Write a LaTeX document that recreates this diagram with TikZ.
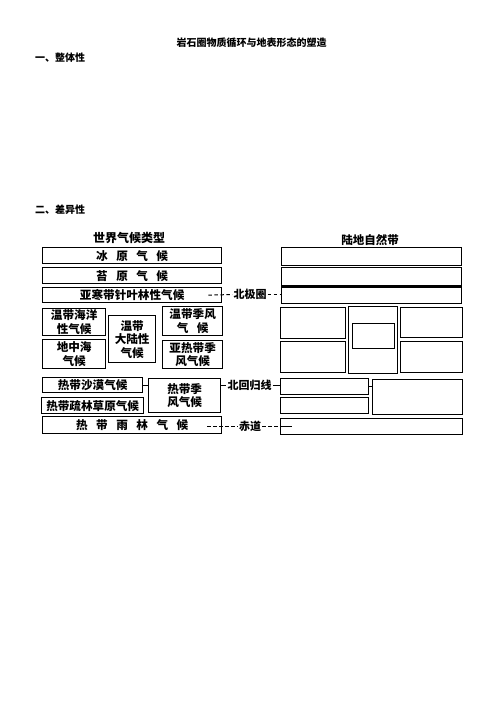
\documentclass[tikz,border=0pt]{standalone}
\usepackage{fontspec}
\newfontfamily\cjk{Noto Sans CJK SC}
\newcommand\sgap{\hspace{8.5pt}}
\begin{document}
\begin{tikzpicture}[x=1pt,y=-1pt,
  box/.style={draw, line width=1.3pt, inner sep=0pt, anchor=north west, align=center,
    font=\cjk\bfseries\fontsize{11.6}{13.5}\selectfont},
  ebox/.style={draw, line width=1.3pt, inner sep=0pt, anchor=north west},
  lbl/.style={inner sep=1pt, font=\cjk\bfseries\fontsize{11}{13}\selectfont},
  head/.style={inner sep=0pt, font=\cjk\bfseries\fontsize{10}{12}\selectfont},
  dsh/.style={line width=1pt, dash pattern=on 3.5pt off 2.5pt},
  con/.style={line width=1pt}]
\useasboundingbox (0,0) rectangle (502,708);

% headings
\node[head] (title) at (251.5,43) {岩石圈物质循环与地表形态的塑造};
\node[head, anchor=west] (h1) at (35,58) {一、整体性};
\node[head, anchor=west] (h2) at (35,210) {二、差异性};
\node[head, font=\cjk\bfseries\fontsize{12}{14}\selectfont] (hl) at (129,238) {世界气候类型};
\node[head, font=\cjk\bfseries\fontsize{11.5}{14}\selectfont] (hr) at (370,240) {陆地自然带};

% left column
\node[box, minimum width=179pt, minimum height=16pt] (l1) at (42,247) {冰\sgap 原\sgap 气\sgap 候};
\node[box, minimum width=179pt, minimum height=16pt] (l2) at (42,267) {苔\sgap 原\sgap 气\sgap 候};
\node[box, minimum width=179pt, minimum height=15pt] (l3) at (42,287) {亚寒带针叶林性气候};
\node[box, minimum width=63pt, minimum height=27pt] (l4) at (42,308) {温带海洋\\性气候};
\node[box, minimum width=63pt, minimum height=29pt] (l5) at (42,339) {地中海\\气候};
\node[box, minimum width=47pt, minimum height=47pt] (l6) at (108,315) {温带\\大陆性\\气候};
\node[box, minimum width=60pt, minimum height=29pt] (l7) at (162,306) {温带季风\\气\sgap 候};
\node[box, minimum width=60pt, minimum height=28pt] (l8) at (162,340) {亚热带季\\风气候};
\node[box, minimum width=100pt, minimum height=15pt] (l9) at (42,377) {热带沙漠气候};
\node[box, minimum width=102pt, minimum height=16pt] (l10) at (41,397) {热带疏林草原气候};
\node[box, minimum width=72pt, minimum height=34pt] (l11) at (148,378) {热带季\\风气候};
\node[box, minimum width=179pt, minimum height=17pt] (l12) at (42,416) {热\sgap 带\sgap 雨\sgap 林\sgap 气\sgap 候};
\draw[con] (l9.east) -- (l11.west |- l9.east);

% right column
\node[ebox, minimum width=180pt, minimum height=18pt] (r1) at (281,247) {};
\node[ebox, minimum width=180pt, minimum height=18pt] (r2) at (281,267) {};
\node[ebox, minimum width=180pt, minimum height=17.5pt] (r3) at (281,285.5) {};
\draw[line width=2.8pt] (r2.south west) -- (r2.south east);
\node[ebox, minimum width=65pt, minimum height=31pt] (ra) at (280,307) {};
\node[ebox, minimum width=65pt, minimum height=31pt] (rb) at (280,341) {};
\node[ebox, minimum width=49pt, minimum height=67pt] (rm) at (348,306) {};
\node[ebox, minimum width=42pt, minimum height=25pt] (rn) at (352,323) {};
\node[ebox, minimum width=62pt, minimum height=30pt] (rc) at (400,307) {};
\node[ebox, minimum width=62pt, minimum height=31pt] (rd) at (400,341) {};
\node[ebox, minimum width=88pt, minimum height=16pt] (re) at (280,378) {};
\node[ebox, minimum width=88pt, minimum height=16pt] (rf) at (280,397) {};
\node[ebox, minimum width=90pt, minimum height=35pt] (rg) at (372,379) {};
\node[ebox, minimum width=182pt, minimum height=16pt] (rh) at (280,418) {};
\draw[con] (re.east) -- (rg.west |- re.east);

% boundary labels
\node[lbl] (np) at (250,294.5) {北极圈};
\draw[dsh] ([xshift=-14pt]l3.east) -- (np.west);
\draw[dsh] (np.east) -- (r3.west |- np.east);

\node[lbl] (tc) at (249.5,385) {北回归线};
\draw[con] (l11.east |- tc.west) -- (tc.west);
\draw[con] (tc.east) -- (re.west |- tc.east);

\node[lbl] (eq) at (250,426) {赤道};
\draw[dsh] ([xshift=-15pt]l12.east |- eq.west) -- (eq.west);
\draw[dsh] (eq.east) -- (rh.west |- eq.east);
\draw[con] (rh.west |- eq.east) -- ([xshift=12pt]rh.west |- eq.east);
\end{tikzpicture}
\end{document}
